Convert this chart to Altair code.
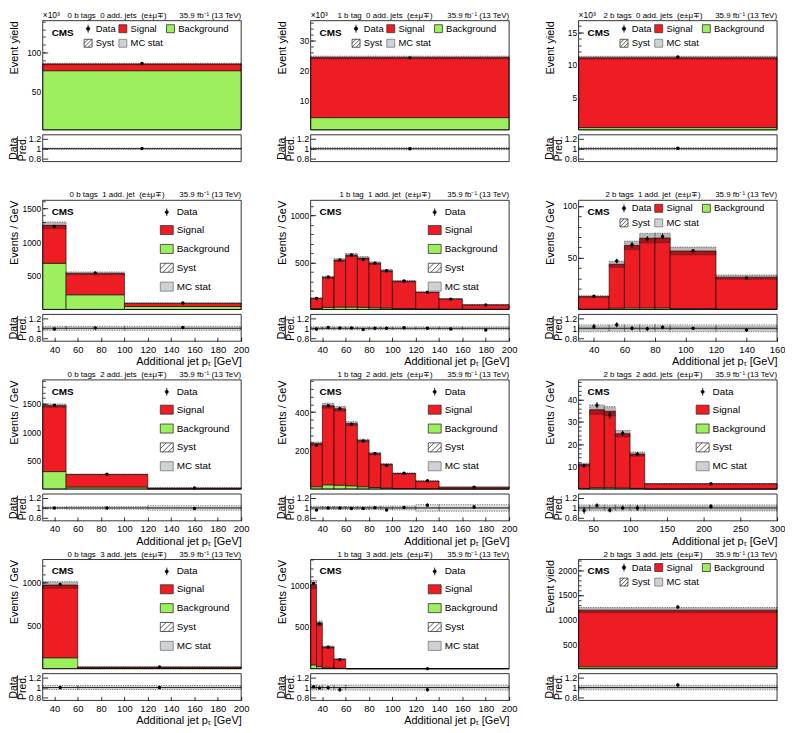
import altair as alt
import pandas as pd

FONT = "Liberation Sans"
RED = "#ee1d23"
GREEN = "#9def5e"
GREY = "#ced2d4"

LEGEND_ROW_ORDER = ["Data", "Syst", "Signal", "MC stat", "Background"]
LEGEND_COL_ORDER = ["Data", "Signal", "Background", "Syst", "MC stat"]
RATIO_DOMAIN = [0.74, 1.28]
RATIO_TICKS = [0.8, 1.0, 1.2]
X_TICKS_200 = [40, 60, 80, 100, 120, 140, 160, 180, 200]
X_TICKS_160 = [40, 60, 80, 100, 120, 140, 160]
X_TICKS_300 = [50, 100, 150, 200, 250, 300]
LUMI = "35.9 fb\u207b\u00b9 (13 TeV)"
SP = " \u00a0"

# ---------------- row 1 : 0 additional jets (yields in 10^3) ----------------
P00_EDGES = [0, 1]
P00_BKG = [76.4]
P00_TOT = [85.0]
P00_DATA = [85.8]
P00_DERR = [0.3]
P00_RATIO = [1.005]
P00_RERR = [0.004]
P00_SYST = [0.012]
P00_STAT = [0.004]
P00_YTICKS = [50, 100]
P00_YMAX = 141

P01_EDGES = [0, 1]
P01_BKG = [4.1]
P01_TOT = [24.3]
P01_DATA = [24.2]
P01_DERR = [0.16]
P01_RATIO = [0.998]
P01_RERR = [0.007]
P01_SYST = [0.02]
P01_STAT = [0.006]
P01_YTICKS = [10, 20, 30]
P01_YMAX = 36.7

P02_EDGES = [0, 1]
P02_BKG = [0.35]
P02_TOT = [11.1]
P02_DATA = [11.2]
P02_DERR = [0.1]
P02_RATIO = [1.008]
P02_RERR = [0.01]
P02_SYST = [0.02]
P02_STAT = [0.008]
P02_YTICKS = [5, 10, 15]
P02_YMAX = 16.8

# ---------------- row 2 : 1 additional jet ----------------
P10_EDGES = [30, 50, 100, 200]
P10_BKG = [685, 218, 44]
P10_TOT = [1248, 535, 93]
P10_DATA = [1232, 540, 95]
P10_DERR = [8, 3.3, 1]
P10_RATIO = [0.985, 1.005, 1.015]
P10_RERR = [0.007, 0.007, 0.012]
P10_SYST = [0.04, 0.04, 0.04]
P10_STAT = [0.02, 0.02, 0.02]
P10_YTICKS = [500, 1000, 1500]
P10_YMAX = 1620

P11_EDGES = [30, 40, 50, 60, 70, 80, 90, 100, 120, 140, 160, 200]
P11_BKG = [10, 22, 25, 25, 22, 18, 15, 10, 7, 4, 2]
P11_TOT = [119, 341, 524, 577, 545, 492, 411, 299, 183, 112, 49]
P11_DATA = [117, 346, 527, 580, 531, 492, 411, 302, 183, 110, 47]
P11_DERR = [3.5, 6, 7, 8, 7, 7, 6, 4, 3, 2.3, 1.1]
P11_RATIO = [0.985, 1.015, 1.005, 1.005, 0.975, 1.0, 1.0, 1.01, 1.0, 0.985, 0.965]
P11_RERR = [0.03, 0.017, 0.014, 0.013, 0.013, 0.014, 0.015, 0.013, 0.016, 0.021, 0.022]
P11_SYST = [0.03] * 11
P11_STAT = [0.012] * 11
P11_YTICKS = [500, 1000]
P11_YMAX = 1160

P12_EDGES = [30, 50, 60, 70, 80, 90, 120, 160]
P12_BKG = [0.3, 1.3, 1.5, 1.5, 1.5, 0.8, 0.4]
P12_TOT = [12.4, 43.6, 61.8, 68.8, 69.0, 56.4, 31.2]
P12_DATA = [12.8, 46.7, 62.5, 68.1, 70.4, 56.6, 30.3]
P12_DERR = [0.6, 2.2, 2.5, 2.6, 2.7, 1.4, 0.9]
P12_RATIO = [1.035, 1.07, 1.0, 0.99, 1.02, 1.0, 0.965]
P12_RERR = [0.05, 0.05, 0.04, 0.04, 0.04, 0.025, 0.03]
P12_SYST = [0.068] * 7
P12_STAT = [0.045] * 7
P12_YTICKS = [50, 100]
P12_YMAX = 105.4

# ---------------- row 3 : 2 additional jets ----------------
P20_EDGES = [30, 50, 120, 200]
P20_BKG = [308, 35, 5]
P20_TOT = [1470, 258, 18.5]
P20_DATA = [1478, 260, 18.3]
P20_DERR = [7, 1.9, 0.4]
P20_RATIO = [1.0, 1.0, 0.99]
P20_RERR = [0.006, 0.007, 0.03]
P20_SYST = [0.02, 0.025, 0.045]
P20_STAT = [0.008, 0.01, 0.02]
P20_YTICKS = [500, 1000, 1500]
P20_YMAX = 1923

P21_EDGES = [30, 40, 50, 60, 70, 80, 90, 100, 120, 140, 200]
P21_BKG = [12, 22, 20, 17, 12, 8, 5, 3, 2, 1]
P21_TOT = [236, 433, 417, 340, 252, 184, 128, 81, 41, 10]
P21_DATA = [227, 433, 417, 337, 250, 185, 123, 82, 43, 10.2]
P21_DERR = [4.8, 6.6, 6.5, 5.8, 5, 4.3, 3.5, 2, 1.5, 0.4]
P21_RATIO = [0.96, 1.0, 1.0, 0.99, 0.99, 1.005, 0.96, 1.01, 1.055, 1.02]
P21_RERR = [0.02, 0.015, 0.015, 0.017, 0.02, 0.023, 0.027, 0.025, 0.035, 0.04]
P21_SYST = [0.035, 0.03, 0.03, 0.03, 0.03, 0.035, 0.035, 0.04, 0.065, 0.065]
P21_STAT = [0.02] * 10
P21_YTICKS = [200, 400]
P21_YMAX = 567

P22_EDGES = [30, 45, 65, 80, 100, 120, 300]
P22_BKG = [0.3, 0.6, 0.6, 0.5, 0.3, 0.05]
P22_TOT = [10.9, 35.4, 34.7, 24.7, 15.6, 2.35]
P22_DATA = [10.4, 37.4, 32.9, 24.9, 15.6, 2.4]
P22_DERR = [0.8, 1.4, 1.5, 1.1, 0.9, 0.12]
P22_RATIO = [0.95, 1.05, 0.955, 1.0, 1.0, 1.03]
P22_RERR = [0.07, 0.04, 0.045, 0.045, 0.06, 0.05]
P22_SYST = [0.06] * 6
P22_STAT = [0.045] * 6
P22_YTICKS = [10, 20, 30, 40]
P22_YMAX = 48.7

# ---------------- row 4 : 3 additional jets ----------------
P30_EDGES = [30, 60, 200]
P30_BKG = [127, 8]
P30_TOT = [973, 19]
P30_DATA = [980, 19.2]
P30_DERR = [5.7, 0.4]
P30_RATIO = [1.0, 1.0]
P30_RERR = [0.006, 0.02]
P30_SYST = [0.04, 0.04]
P30_STAT = [0.01, 0.015]
P30_YTICKS = [500, 1000]
P30_YMAX = 1270

P31_EDGES = [30, 35, 40, 50, 60, 200]
P31_BKG = [45, 25, 10, 4, 0.05]
P31_TOT = [1004, 543, 258, 113, 0.6]
P31_DATA = [1020, 537, 257, 108, 0.57]
P31_DERR = [14, 10, 5, 3.3, 0.06]
P31_RATIO = [1.015, 0.99, 0.995, 0.955, 0.955]
P31_RERR = [0.014, 0.02, 0.02, 0.03, 0.03]
P31_SYST = [0.05] * 5
P31_STAT = [0.015] * 5
P31_YTICKS = [500, 1000]
P31_YMAX = 1305

P32_EDGES = [0, 1]
P32_BKG = [38]
P32_TOT = [1190]
P32_DATA = [1253]
P32_DERR = [30]
P32_RATIO = [1.05]
P32_RERR = [0.03]
P32_SYST = [0.045]
P32_STAT = [0.02]
P32_YTICKS = [500, 1000, 1500, 2000]
P32_YMAX = 2220

# ---------------- layout ----------------
W = 200
MAIN_H = 110
GAP = 5
RATIO_H = 27
H = MAIN_H + GAP + RATIO_H
R_MID = MAIN_H + GAP + RATIO_H / 2

BOX_ROW = "M-1,-1H1V1H-1Z"
BOX_COL = "M-1,-0.7H1V0.7H-1Z"
DOT_ROW = "M0,-1V1M-0.42,0A0.42,0.42,0,1,1,0.42,0A0.42,0.42,0,1,1,-0.42,0Z"
DOT_COL = "M0,-0.6V0.6M-0.24,0A0.24,0.24,0,1,1,0.24,0A0.24,0.24,0,1,1,-0.24,0Z"
HATCH_ROW = BOX_ROW + "M-1,0L0,-1M-1,1L1,-1M0,1L1,0"
HATCH_COL = BOX_COL + "M-1,0.2L-0.1,-0.7M-0.6,0.7L0.8,-0.7M0.2,0.7L1,-0.1"
FILL_OF = {"Data": "black", "Signal": RED, "Background": GREEN, "Syst": "white", "MC stat": GREY}
STROKE_OF = {"Data": "black", "Signal": "#333333", "Background": "#333333",
             "Syst": "#333333", "MC stat": "#777777"}


def legend_layer(style):
    if style == "row":
        order = LEGEND_ROW_ORDER
        shape_of = {"Data": DOT_ROW, "Signal": BOX_ROW, "Background": BOX_ROW,
                    "Syst": HATCH_ROW, "MC stat": BOX_ROW}
        leg = alt.Legend(orient="none", legendX=41, legendY=3, columns=3, title=None,
                         symbolSize=64, labelFontSize=9.5, labelFont=FONT, labelColor="black",
                         labelOffset=3, rowPadding=3, columnPadding=1, symbolStrokeWidth=0.8,
                         padding=0)
    else:
        order = LEGEND_COL_ORDER
        shape_of = {"Data": DOT_COL, "Signal": BOX_COL, "Background": BOX_COL,
                    "Syst": HATCH_COL, "MC stat": BOX_COL}
        leg = alt.Legend(orient="none", legendX=118, legendY=5, columns=1, title=None,
                         symbolSize=169, labelFontSize=10, labelFont=FONT, labelColor="black",
                         labelOffset=3, rowPadding=5, symbolStrokeWidth=0.8, padding=0)
    empty = pd.DataFrame({"comp": pd.Series([], dtype=str)})
    return alt.Chart(empty).mark_point(filled=True, opacity=1).encode(
        fill=alt.Fill("comp:N", scale=alt.Scale(domain=order, range=[FILL_OF[k] for k in order]),
                      legend=leg),
        shape=alt.Shape("comp:N", scale=alt.Scale(domain=order, range=[shape_of[k] for k in order]),
                        legend=leg),
        stroke=alt.Stroke("comp:N", scale=alt.Scale(domain=order, range=[STROKE_OF[k] for k in order]),
                          legend=leg),
    )


def text(txt, x, y, size, align="left", weight="normal", baseline="alphabetic"):
    return alt.Chart(pd.DataFrame({"t": [txt]})).mark_text(
        align=align, baseline=baseline, font=FONT, fontSize=size, fontWeight=weight,
        color="black").encode(x=alt.value(x), y=alt.value(y), text="t:N")


def cell(label, edges, bkg, tot, data, derr, ratio, rerr, syst, stat,
         ymax, yticks, ytitle, xdom, xticks, style, x10=False):
    df = pd.DataFrame({"lo": edges[:-1], "hi": edges[1:], "bkg": bkg, "tot": tot,
                       "data": data, "derr": derr, "ratio": ratio, "rerr": rerr,
                       "syst": syst, "stat": stat})
    df["mid"] = (df["lo"] + df["hi"]) / 2
    df["zero"] = 0.0
    df["s_lo"] = df["tot"] * (1 - df["syst"])
    df["s_hi"] = df["tot"] * (1 + df["syst"])
    df["d_lo"] = df["data"] - df["derr"]
    df["d_hi"] = df["data"] + df["derr"]
    df["r_lo"] = df["ratio"] - df["rerr"]
    df["r_hi"] = df["ratio"] + df["rerr"]
    df["rs_lo"] = 1 - df["syst"]
    df["rs_hi"] = 1 + df["syst"]
    df["rm_lo"] = 1 - df["stat"]
    df["rm_hi"] = 1 + df["stat"]
    fr = pd.DataFrame({"x0": [xdom[0]], "x1": [xdom[1]], "y0": [0.0], "y1": [ymax],
                       "r0": [RATIO_DOMAIN[0]], "r1": [RATIO_DOMAIN[1]], "one": [1.0]})

    step = yticks[1] - yticks[0]
    minor = []
    k = 1
    while k * step / 5 < ymax:
        minor.append(k * step / 5)
        k += 1

    xs = alt.Scale(domain=xdom, nice=False, zero=False)
    ys = alt.Scale(domain=[0, ymax], range=[MAIN_H, 0], nice=False, zero=False)
    rs = alt.Scale(domain=RATIO_DOMAIN, range=[H, MAIN_H + GAP], nice=False, zero=False)

    y_axis = alt.Axis(values=yticks, format="d", title=ytitle, orient="left",
                      titleAnchor="end", titleFontSize=11, labelFontSize=8.5,
                      tickSize=5, offset=-5, labelPadding=2, titlePadding=0,
                      minExtent=28, maxExtent=28, domain=False, grid=False)
    y_minor = alt.Axis(values=minor, labels=False, title="", orient="left",
                       tickSize=2.5, offset=-2.5, domain=False, grid=False)
    r_axis = alt.Axis(values=RATIO_TICKS, format="~g", title=["Data", "Pred."], orient="left",
                      titleFontSize=10.5, titleLineHeight=9.5, labelFontSize=9,
                      tickSize=5, offset=-5, labelPadding=2, titlePadding=0,
                      minExtent=20, maxExtent=20, domain=False, grid=False)
    if xticks:
        x_axis = alt.Axis(values=xticks, format="d", title="Additional jet p\u209c [GeV]",
                          titleAnchor="end", titleFontSize=11, labelFontSize=9.5,
                          tickSize=4, offset=-4, labelPadding=3, titlePadding=2,
                          labelOverlap=False, labelFlush=False, labelBound=False,
                          domain=False, grid=False, orient="bottom")
    else:
        x_axis = None

    def xq(field):
        return alt.X(field + ":Q", scale=xs, axis=x_axis)

    base = alt.Chart(df)
    bkg_l = base.mark_rect(fill=GREEN, stroke="black", strokeWidth=0.6).encode(
        x=xq("lo"), x2="hi", y=alt.Y("zero:Q", scale=ys, axis=y_axis), y2="bkg")
    sig_l = base.mark_rect(fill=RED, stroke="black", strokeWidth=0.6).encode(
        x=xq("lo"), x2="hi", y=alt.Y("bkg:Q", scale=ys, axis=None), y2="tot")
    syst_l = base.mark_rect(fill="black", fillOpacity=0.28, stroke="#222222",
                            strokeWidth=0.6, strokeDash=[1.2, 1.2]).encode(
        x=xq("lo"), x2="hi", y=alt.Y("s_lo:Q", scale=ys, axis=None), y2="s_hi")
    frame_l = alt.Chart(fr).mark_rect(fillOpacity=0, stroke="black", strokeWidth=0.8).encode(
        x=xq("x0"), x2="x1", y=alt.Y("y0:Q", scale=ys, axis=y_minor), y2="y1")
    err_l = base.mark_rule(color="black", strokeWidth=1).encode(
        x=xq("mid"), y=alt.Y("d_lo:Q", scale=ys, axis=None), y2="d_hi")
    pts_l = base.mark_circle(color="black", size=12, opacity=1).encode(
        x=xq("mid"), y=alt.Y("data:Q", scale=ys, axis=None))

    stat_l = base.mark_rect(fill=GREY).encode(
        x=xq("lo"), x2="hi", y=alt.Y("rm_lo:Q", scale=rs, axis=r_axis), y2="rm_hi")
    rsyst_l = base.mark_rect(fill="black", fillOpacity=0.12, stroke="#222222",
                             strokeWidth=0.6, strokeDash=[1.2, 1.2]).encode(
        x=xq("lo"), x2="hi", y=alt.Y("rs_lo:Q", scale=rs, axis=None), y2="rs_hi")
    one_l = alt.Chart(fr).mark_rule(color="black", strokeWidth=0.8).encode(
        x=xq("x0"), x2="x1", y=alt.Y("one:Q", scale=rs, axis=None))
    rframe_l = alt.Chart(fr).mark_rect(fillOpacity=0, stroke="black", strokeWidth=0.8).encode(
        x=xq("x0"), x2="x1", y=alt.Y("r0:Q", scale=rs, axis=None), y2="r1")
    rerr_l = base.mark_rule(color="black", strokeWidth=1).encode(
        x=xq("mid"), y=alt.Y("r_lo:Q", scale=rs, axis=None), y2="r_hi")
    rpts_l = base.mark_circle(color="black", size=12, opacity=1).encode(
        x=xq("mid"), y=alt.Y("ratio:Q", scale=rs, axis=None))
    # fraction bar of the "Data / Pred." axis title
    bar_l = alt.Chart(pd.DataFrame({"t": [0]})).mark_rule(color="black", strokeWidth=0.8).encode(
        x=alt.value(-25.5), y=alt.value(R_MID - 12), y2=alt.value(R_MID + 12))

    layers = [bkg_l, sig_l, syst_l, frame_l, err_l, pts_l,
              stat_l, rsyst_l, one_l, rframe_l, rerr_l, rpts_l, bar_l,
              text("CMS", 9, 12, 10, weight="bold", baseline="middle"),
              text(label, 75, -3, 8, align="center"),
              text(LUMI, W, -3, 8, align="right"),
              legend_layer(style)]
    if x10:
        layers.append(text("\u00d710\u00b3", 0, -3, 8.5))
    return alt.layer(*layers).resolve_scale(y="independent").properties(width=W, height=H)


EY = "Event yield"
EG = "Events / GeV"
EM = "(e\u00b1\u03bc\u2213)"
cells = [
    cell("0 b tags" + SP + "0 add. jets" + SP + EM, P00_EDGES, P00_BKG, P00_TOT,
         P00_DATA, P00_DERR, P00_RATIO, P00_RERR, P00_SYST, P00_STAT, P00_YMAX, P00_YTICKS, EY,
         [0, 1], None, "row", x10=True),
    cell("1 b tag" + SP + "0 add. jets" + SP + EM, P01_EDGES, P01_BKG, P01_TOT,
         P01_DATA, P01_DERR, P01_RATIO, P01_RERR, P01_SYST, P01_STAT, P01_YMAX, P01_YTICKS, EY,
         [0, 1], None, "row", x10=True),
    cell("2 b tags" + SP + "0 add. jets" + SP + EM, P02_EDGES, P02_BKG, P02_TOT,
         P02_DATA, P02_DERR, P02_RATIO, P02_RERR, P02_SYST, P02_STAT, P02_YMAX, P02_YTICKS, EY,
         [0, 1], None, "row", x10=True),
    cell("0 b tags" + SP + "1 add. jet" + SP + EM, P10_EDGES, P10_BKG, P10_TOT,
         P10_DATA, P10_DERR, P10_RATIO, P10_RERR, P10_SYST, P10_STAT, P10_YMAX, P10_YTICKS, EG,
         [30, 200], X_TICKS_200, "col"),
    cell("1 b tag" + SP + "1 add. jet" + SP + EM, P11_EDGES, P11_BKG, P11_TOT,
         P11_DATA, P11_DERR, P11_RATIO, P11_RERR, P11_SYST, P11_STAT, P11_YMAX, P11_YTICKS, EG,
         [30, 200], X_TICKS_200, "col"),
    cell("2 b tags" + SP + "1 add. jet" + SP + EM, P12_EDGES, P12_BKG, P12_TOT,
         P12_DATA, P12_DERR, P12_RATIO, P12_RERR, P12_SYST, P12_STAT, P12_YMAX, P12_YTICKS, EG,
         [30, 160], X_TICKS_160, "row"),
    cell("0 b tags" + SP + "2 add. jets" + SP + EM, P20_EDGES, P20_BKG, P20_TOT,
         P20_DATA, P20_DERR, P20_RATIO, P20_RERR, P20_SYST, P20_STAT, P20_YMAX, P20_YTICKS, EG,
         [30, 200], X_TICKS_200, "col"),
    cell("1 b tag" + SP + "2 add. jets" + SP + EM, P21_EDGES, P21_BKG, P21_TOT,
         P21_DATA, P21_DERR, P21_RATIO, P21_RERR, P21_SYST, P21_STAT, P21_YMAX, P21_YTICKS, EG,
         [30, 200], X_TICKS_200, "col"),
    cell("2 b tags" + SP + "2 add. jets" + SP + EM, P22_EDGES, P22_BKG, P22_TOT,
         P22_DATA, P22_DERR, P22_RATIO, P22_RERR, P22_SYST, P22_STAT, P22_YMAX, P22_YTICKS, EG,
         [30, 300], X_TICKS_300, "col"),
    cell("0 b tags" + SP + "3 add. jets" + SP + EM, P30_EDGES, P30_BKG, P30_TOT,
         P30_DATA, P30_DERR, P30_RATIO, P30_RERR, P30_SYST, P30_STAT, P30_YMAX, P30_YTICKS, EG,
         [30, 200], X_TICKS_200, "col"),
    cell("1 b tag" + SP + "3 add. jets" + SP + EM, P31_EDGES, P31_BKG, P31_TOT,
         P31_DATA, P31_DERR, P31_RATIO, P31_RERR, P31_SYST, P31_STAT, P31_YMAX, P31_YTICKS, EG,
         [30, 200], X_TICKS_200, "col"),
    cell("2 b tags" + SP + "3 add. jets" + SP + EM, P32_EDGES, P32_BKG, P32_TOT,
         P32_DATA, P32_DERR, P32_RATIO, P32_RERR, P32_SYST, P32_STAT, P32_YMAX, P32_YTICKS, EY,
         [0, 1], None, "row"),
]

chart = alt.concat(
    *cells, columns=3, spacing=alt.RowColnumber(row=39, column=70), bounds="flush"
).resolve_scale(
    fill="independent", shape="independent", stroke="independent"
).resolve_legend(
    fill="independent", shape="independent", stroke="independent"
).properties(padding=0).configure_view(stroke=None).configure_axis(
    labelFont=FONT, titleFont=FONT, labelColor="black", titleColor="black",
    tickColor="black", titleFontWeight="normal", tickWidth=0.8, grid=False
).configure_axisX(labelOverlap=False)

chart.save("out.html", embed_options={"renderer": "svg", "actions": False})
